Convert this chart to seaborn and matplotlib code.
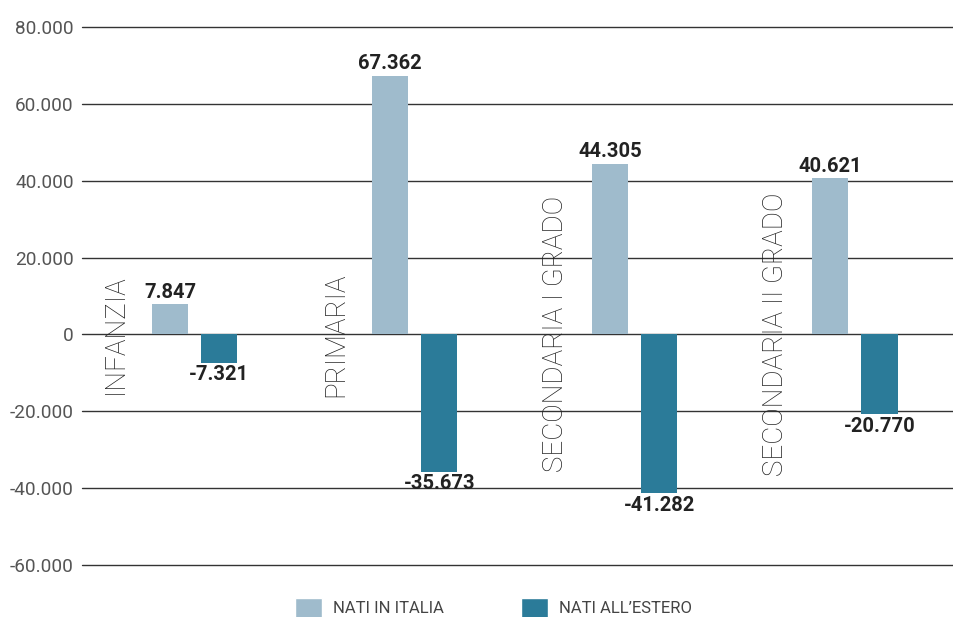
import matplotlib
matplotlib.use("Agg")
import matplotlib.pyplot as plt
import seaborn as sns
import pandas as pd
from matplotlib.patches import Patch

categories = ["INFANZIA", "PRIMARIA", "SECONDARIA I GRADO", "SECONDARIA II GRADO"]
nati_italia = [7847, 67362, 44305, 40621]
nati_estero = [-7321, -35673, -41282, -20770]
series = ["NATI IN ITALIA", "NATI ALL\u2019ESTERO"]
yticks = [-60000, -40000, -20000, 0, 20000, 40000, 60000, 80000]
colors = ["#9FBBCC", "#2B7B99"]

df = pd.DataFrame({
    "cat": categories * 2,
    "serie": [series[0]] * 4 + [series[1]] * 4,
    "val": nati_italia + nati_estero,
})

sns.set_style("white")
plt.rcParams["font.family"] = ["Roboto", "DejaVu Sans"]

fig = plt.figure(figsize=(9.54, 6.17), dpi=100)
ax = fig.add_axes([0.086, 0.0843, 0.914, 0.8719])

sns.barplot(data=df, x="cat", y="val", hue="serie", palette=colors,
            width=0.446, gap=0.265, ax=ax, legend=False, saturation=1,
            linewidth=0, edgecolor="none")

ax.set_xlim(-0.511, 3.45)
ax.set_ylim(-60000, 80000)
for s in ax.spines.values():
    s.set_visible(False)
for t in yticks:
    ax.axhline(t, color="#333333", lw=1.0, zorder=0, clip_on=False)

def fmt(v):
    return f"{v:,}".replace(",", ".")

ax.set_yticks(yticks)
ax.set_yticklabels([fmt(t) for t in yticks], fontsize=13.7, color="#555555")
ax.tick_params(axis="y", length=0, pad=6)
ax.set_xticks([])
ax.set_xlabel("")
ax.set_ylabel("")

for cont in ax.containers:
    labels = [fmt(int(round(b.get_height()))) for b in cont]
    ax.bar_label(cont, labels=labels, padding=2, fontsize=14.5,
                 fontweight="bold", color="#222222")

for i, c in enumerate(categories):
    ax.text(i - 0.36, 0, c, rotation=90, ha="center", va="center",
            fontsize=20, fontweight="light", color="#222222")

handles = [Patch(facecolor=colors[0]), Patch(facecolor=colors[1])]
fig.legend(handles, series, loc="center left", bbox_to_anchor=(0.294, 0.0146),
           ncol=2, frameon=False, fontsize=12, handlelength=1.6, handleheight=1.55,
           columnspacing=4.65, handletextpad=0.65, labelcolor="#444444")

fig.savefig("out.png", dpi=100)
